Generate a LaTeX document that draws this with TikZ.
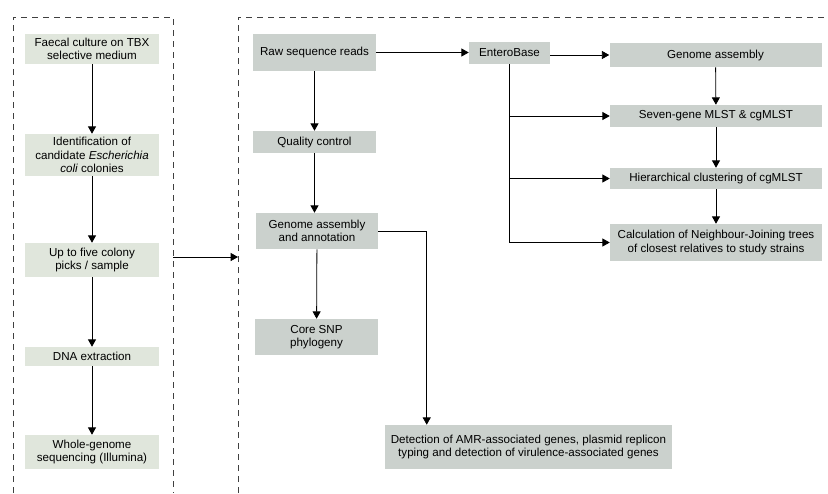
\documentclass[tikz,border=0pt]{standalone}
\usepackage{fontspec}
\setmainfont{Liberation Sans}
\usetikzlibrary{positioning,calc,arrows.meta}
\definecolor{labc}{RGB}{224,230,220}
\definecolor{seqc}{RGB}{203,209,205}

\begin{document}
\begin{tikzpicture}[x=0.75pt,y=-0.75pt]
\tikzstyle{lab}=[fill=labc,align=center,inner sep=0pt,font=\fontsize{8.7}{10}\selectfont];
\tikzstyle{seq}=[fill=seqc,align=center,inner sep=0pt,font=\fontsize{8.7}{10}\selectfont];
\tikzstyle{arr}=[line width=0.6pt,-{Triangle[width=6pt,length=5.5pt]}];
\tikzstyle{frame}=[line width=0.6pt,black!75,dash pattern=on 4.5pt off 3.75pt];

\useasboundingbox (0,0) rectangle (828,493);

% sample collection
\draw[frame] (13,493) -- (13,17) -- (173,17) -- (173,493);

\node[lab,minimum width=100.5pt,minimum height=22.5pt] (cult) at (92,49) {Faecal culture on TBX\\selective medium};
\node[lab,minimum width=100.5pt,minimum height=31.5pt] (ident) at (92,155) {Identification of\\candidate \textit{Escherichia}\\\textit{coli} colonies};
\node[lab,minimum width=100.5pt,minimum height=25.5pt] (picks) at (92,260) {Up to five colony\\picks / sample};
\node[lab,minimum width=100.5pt,minimum height=14.25pt] (dna) at (92,356.5) {DNA extraction};
\node[lab,minimum width=100.5pt,minimum height=25.5pt] (wgs) at (92,452) {Whole-genome\\sequencing (Illumina)};

\draw[arr] (cult) -- (ident);
\draw[arr] (ident) -- (picks);
\draw[arr] (picks) -- (dna);
\draw[arr] (dna) -- (wgs);

\coordinate (lframe) at (173,257);
\coordinate (rframe) at (238,257);
\draw[arr] (lframe) -- (rframe);

% sequence analysis
\draw[frame] (238,493) -- (238,17) -- (828,17);

\node[seq,minimum width=92.25pt,minimum height=27.75pt] (raw) at (314.5,52.5) {Raw sequence reads};
\node[seq,minimum width=92.25pt,minimum height=16.5pt] (qc) at (314.5,142) {Quality control};
\node[seq,minimum width=91.5pt,minimum height=27pt] (gaa) at (317,231) {Genome assembly\\and annotation};
\node[seq,minimum width=92.25pt,minimum height=27pt] (snp) at (316.5,337) {Core SNP\\phylogeny};
\node[seq,minimum width=215.25pt,minimum height=33pt] (det) at (528.5,447) {Detection of AMR-associated genes, plasmid replicon\\typing and detection of virulence-associated genes};

\node[seq,minimum width=60.75pt,minimum height=16.5pt] (ebase) at (509.5,53) {EnteroBase};
\node[seq,minimum width=159pt,minimum height=18pt] (gasm) at (715.5,55) {Genome assembly};
\node[seq,minimum width=159pt,minimum height=16.5pt] (mlst) at (716,116) {Seven-gene MLST \& cgMLST};
\node[seq,minimum width=159pt,minimum height=15.75pt] (hier) at (716,178.5) {Hierarchical clustering of cgMLST};
\node[seq,minimum width=159pt,minimum height=27.75pt] (calc) at (716,242.5) {Calculation of Neighbour-Joining trees\\of closest relatives to study strains};

\draw[arr] (raw) -- (qc);
\draw[arr] (qc.south) -- (qc.south |- gaa.north);
\draw[arr] (gaa) -- (snp);
\draw[arr] (gaa.east) -| ($(det.north west)+(42,0)$);

\draw[arr] (raw.east) -- (ebase.west |- raw.east);
\draw[arr] (ebase.east |- gasm.west) -- (gasm.west);
\draw[line width=0.6pt] (ebase.south) -- (ebase.south |- calc.west);
\draw[arr] (ebase.south |- mlst.west) -- (mlst.west);
\draw[arr] (ebase.south |- hier.west) -- (hier.west);
\draw[arr] (ebase.south |- calc.west) -- (calc.west);

\draw[arr] (gasm) -- (mlst);
\draw[arr] (mlst) -- (hier);
\draw[arr] (hier) -- (calc);

\end{tikzpicture}
\end{document}
